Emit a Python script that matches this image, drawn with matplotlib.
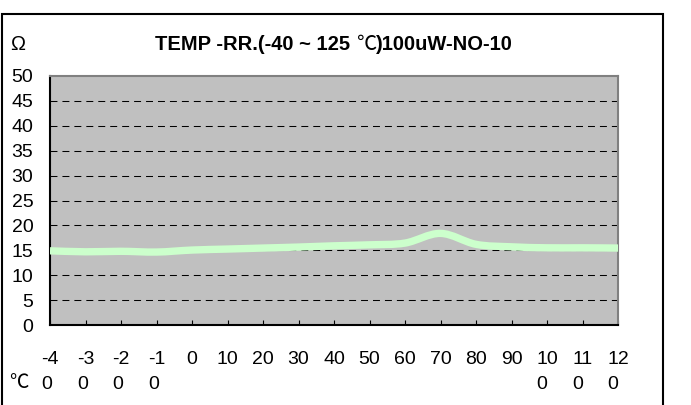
import matplotlib
matplotlib.use("Agg")
import matplotlib.pyplot as plt
from matplotlib.path import Path
from matplotlib.patches import PathPatch, Rectangle

plt.rcParams['font.family'] = ['Liberation Sans', 'DejaVu Sans']
plt.rcParams['lines.scale_dashes'] = False

# ---- data ----
temps = [-40, -30, -20, -10, 0, 10, 20, 30, 40, 50, 60, 70, 80, 90, 100, 110, 120]
tick_labels = ["-4\n0", "-3\n0", "-2\n0", "-1\n0", "0", "10", "20", "30", "40",
               "50", "60", "70", "80", "90", "10\n0", "11\n0", "12\n0"]
resistance = [14.9, 14.7, 14.8, 14.65, 15.05, 15.25, 15.45, 15.65, 15.9,
              16.1, 16.45, 18.4, 16.2, 15.7, 15.5, 15.5, 15.45]
y_ticks = [0, 5, 10, 15, 20, 25, 30, 35, 40, 45, 50]
title_parts = ["TEMP -RR.(-40 ~ 125 ", "\u2103", ")100uW-NO-10"]

W, H = 691, 405
FS = 14
fig = plt.figure(figsize=(W / 100, H / 100), dpi=100)

# outer chart border
fig.patches.append(Rectangle((2 / W, -0.01), (663 - 2) / W, (H - 14) / H + 0.01,
                             transform=fig.transFigure, fill=False,
                             edgecolor='black', linewidth=1.5))

left, right, top, bottom = 50, 618, 76, 325
ax = fig.add_axes([left / W, (H - bottom) / H, (right - left) / W, (bottom - top) / H])
ax.set_facecolor('#C0C0C0')

x = list(range(len(temps)))
# smoothed (Bezier) line through the data points, like a spreadsheet smooth line
verts = [(x[0], resistance[0])]
codes = [Path.MOVETO]
n = len(x)
for i in range(n - 1):
    p0 = (x[max(i - 1, 0)], resistance[max(i - 1, 0)])
    p1 = (x[i], resistance[i])
    p2 = (x[i + 1], resistance[i + 1])
    p3 = (x[min(i + 2, n - 1)], resistance[min(i + 2, n - 1)])
    c1 = (p1[0] + (p2[0] - p0[0]) / 6, p1[1] + (p2[1] - p0[1]) / 6)
    c2 = (p2[0] - (p3[0] - p1[0]) / 6, p2[1] - (p3[1] - p1[1]) / 6)
    verts += [c1, c2, p2]
    codes += [Path.CURVE4] * 3
ax.add_patch(PathPatch(Path(verts, codes), facecolor='none', edgecolor='#CCFFCC',
                       linewidth=5.3, capstyle='butt', joinstyle='round', zorder=3))

ax.set_xlim(0, n - 1)
ax.set_ylim(0, 50)
ax.set_yticks(y_ticks)
ax.set_yticklabels([str(v) for v in y_ticks], fontsize=FS)
ax.tick_params(axis='y', length=0, pad=12)
for v in y_ticks[1:-1]:
    ax.axhline(v, color='black', linewidth=0.75, linestyle=(0, (5, 3.6)), zorder=2)

ax.set_xticks(x)
ax.set_xticklabels(tick_labels, fontsize=FS)
ax.tick_params(axis='x', direction='in', length=3.6, width=0.8, pad=19, colors='black')
for lbl in ax.get_xticklabels():
    lbl.set_multialignment('left')
    lbl.set_linespacing(1.55)

for s in ['top', 'right']:
    ax.spines[s].set_color('#808080')
    ax.spines[s].set_linewidth(1.5)
for s in ['left', 'bottom']:
    ax.spines[s].set_color('black')
    ax.spines[s].set_linewidth(1.5)

# title built from pieces so the degree-Celsius sign uses a CJK glyph
renderer = fig.canvas.get_renderer()
title_y = 1 - 45 / H
pieces = []
for i, part in enumerate(title_parts):
    if part == "\u2103":
        t = fig.text(0, title_y, part, ha='left', va='center', fontsize=14.5,
                     family=['Noto Sans CJK SC', 'DejaVu Sans'], fontweight='light')
    else:
        t = fig.text(0, title_y, part, ha='left', va='center', fontsize=14.5,
                     fontweight='bold')
    pieces.append(t)
widths = [p.get_window_extent(renderer).width for p in pieces]
total = sum(widths)
xs = 334 - total / 2
for p, w in zip(pieces, widths):
    p.set_x(xs / W)
    xs += w

fig.text(10 / W, 1 - 45 / H, "\u03a9", ha='left', va='center', fontsize=14.5)
fig.text(9 / W, 1 - 383 / H, "\u2103", ha='left', va='center', fontsize=14,
         family=['Noto Sans CJK SC', 'DejaVu Sans'], fontweight='light')

fig.savefig("out.png", dpi=100)
